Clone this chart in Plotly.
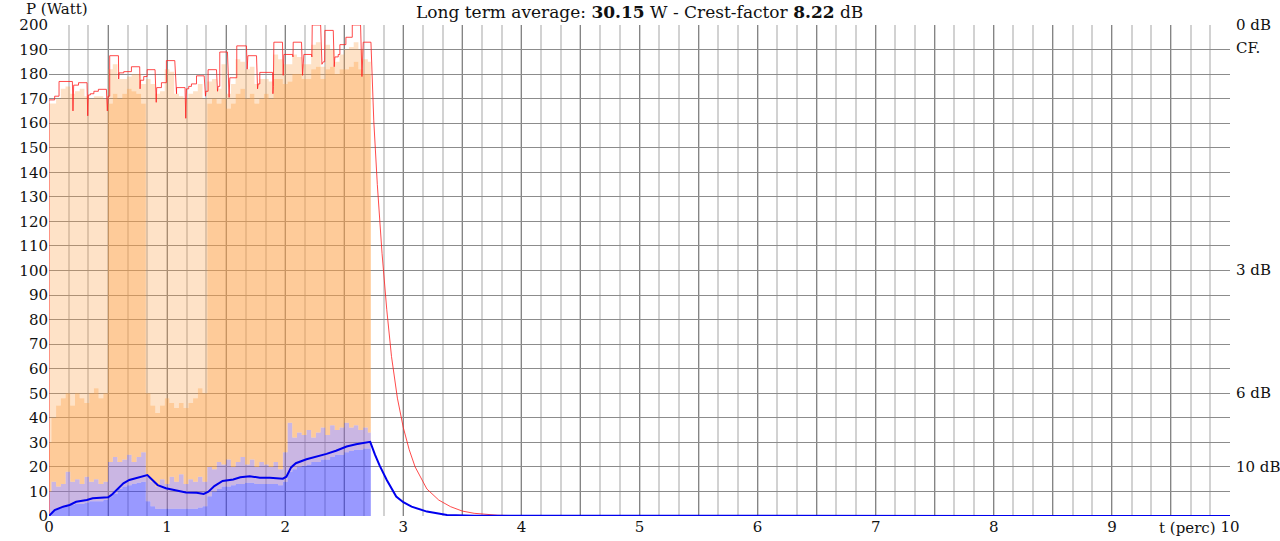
import plotly.graph_objects as go

# time grid of the measured part (t in perc), step 0.04, plus the cut-off point
t_meas = [round(i * 0.04, 2) for i in range(69)] + [2.73]

# peak power, pale upper envelope (W)
orange_env = [168, 168, 170, 174, 175, 172, 173, 174, 171, 170, 171, 171, 170,
              182, 184, 178, 178, 179, 180, 180, 176,
              178, 176, 172, 173, 182, 181, 172, 171, 170, 172, 173, 176,
              170, 177, 178, 174, 184, 172, 176, 186, 185, 182, 183, 176, 178, 178, 177,
              188, 186, 184, 184, 188, 187, 184, 184, 192, 193, 183, 192, 190, 185, 188,
              190, 191, 193, 190, 186, 185, 0]
# peak power, dense part (W)
orange_core = [30, 40, 45, 48, 50, 45, 50, 48, 46, 50, 52, 48, 50,
               168, 172, 170, 172, 174, 173, 172, 168,
               50, 45, 42, 45, 48, 46, 44, 46, 44, 46, 48, 52,
               50, 168, 170, 168, 170, 166, 168, 172, 174, 170, 172, 168, 170, 172, 170,
               178, 178, 176, 177, 180, 180, 178, 178, 182, 183, 178, 182, 183, 180, 182,
               182, 183, 185, 182, 180, 180, 0]
# short term power, spiky envelope (W)
purple_env = [10, 14, 12, 13, 18, 14, 15, 13, 16, 14, 15, 13, 14,
              22, 24, 22, 23, 25, 22, 24, 26,
              16, 14, 12, 15, 13, 16, 14, 17, 13, 15, 14, 16,
              14, 20, 19, 22, 21, 23, 20, 22, 24, 21, 23, 20, 22, 21, 20,
              22, 19, 26, 38, 32, 34, 33, 35, 32, 34, 36, 33, 37, 35, 36,
              38, 36, 37, 35, 36, 34, 0]
# short term power, dense part (W)
purple_core = [0, 2, 3, 3.5, 4, 4.5, 5, 5, 5.5, 6, 6, 6, 6.5,
               8, 9, 11, 12, 12.5, 13, 13.5, 14,
               6, 4, 3, 3, 3, 3, 3, 3, 3, 3, 3, 3.5,
               4, 8, 10, 11, 12, 12, 12.5, 13, 13, 13.5, 13.5, 13, 13, 13, 13,
               13, 12.5, 14, 18, 19, 20, 20.5, 21, 22, 22, 23, 23, 24, 25, 25,
               26, 26.5, 27, 27, 27.5, 27.5, 0]

# peak hold (red)
red_t = [0, 0, 0.048, 0.048, 0.085, 0.085, 0.198, 0.203, 0.209, 0.25, 0.25, 0.322, 0.328,
         0.333, 0.35, 0.35, 0.38, 0.38, 0.418, 0.418, 0.486, 0.494, 0.5, 0.514, 0.514,
         0.588, 0.59, 0.593, 0.633, 0.633, 0.698, 0.698, 0.768, 0.771, 0.774, 0.802, 0.802,
         0.831, 0.831, 0.898, 0.908, 0.912, 0.952, 0.952, 0.994, 0.994, 1.065, 1.08, 1.08,
         1.152, 1.158, 1.164, 1.183, 1.183, 1.206, 1.206, 1.249, 1.249, 1.314, 1.325, 1.328,
         1.347, 1.347, 1.418, 1.427, 1.432, 1.446, 1.446, 1.511, 1.525, 1.531, 1.59, 1.59,
         1.672, 1.678, 1.684, 1.757, 1.766, 1.771, 1.785, 1.785, 1.893, 1.896, 1.9, 1.904,
         1.977, 1.983, 1.989, 2.062, 2.066, 2.068, 2.138, 2.147, 2.158, 2.223, 2.226, 2.229,
         2.3, 2.311, 2.322, 2.334, 2.336, 2.407, 2.415, 2.421, 2.449, 2.449, 2.463, 2.463,
         2.514, 2.514, 2.568, 2.568, 2.638, 2.65, 2.661, 2.726,
         2.75, 2.78, 2.82, 2.86, 2.9, 2.95, 3.0, 3.05, 3.1, 3.2, 3.3, 3.4, 3.5, 3.6, 3.7,
         3.8, 4.0, 10]
red_p = [0, 169.5, 169.5, 171, 171, 177, 177, 165, 175.5, 175.5, 176.5, 176.5, 163,
         171.5, 171.5, 172, 172, 173, 173, 173.8, 173.8, 165, 171, 171, 187.5,
         187.5, 178, 180.5, 180.5, 181, 181, 183, 183, 174, 177.5, 177.5, 179,
         179, 181.8, 181.8, 168.5, 174.5, 174.5, 176.5, 176.5, 185.5, 185.5, 172, 174.5,
         174.5, 162, 174, 174, 175, 175, 176, 176, 179.3, 179.3, 171, 173,
         173, 181.8, 181.8, 173, 175, 175, 189, 189, 170.5, 178.5, 178.5, 191.5,
         191.5, 182, 187.5, 187.5, 174, 176, 176, 180.7, 180.7, 172, 175, 193,
         193, 179.5, 188, 188, 187, 193, 193, 179.5, 188, 188, 187, 200,
         200, 184, 185, 185, 197.8, 197.8, 183, 187, 187, 188, 188, 192,
         192, 195, 195, 200, 200, 179, 193, 193,
         161, 135, 107, 84, 65, 48, 36, 27, 20, 11, 6.5, 3.8, 2.0, 1.1, 0.6,
         0.3, 0.1, 0]

# long term average (blue)
blue_t = [0, 0.048, 0.12, 0.175, 0.23, 0.32, 0.37, 0.43, 0.5, 0.53, 0.57, 0.63, 0.68,
          0.74, 0.8, 0.833, 0.867, 0.92, 0.99, 1.08, 1.16, 1.25, 1.31, 1.35, 1.4, 1.47,
          1.56, 1.62, 1.7, 1.785, 1.87, 1.98, 2.01, 2.05, 2.09, 2.18, 2.27, 2.35, 2.43,
          2.52, 2.6, 2.675, 2.72,
          2.76, 2.8, 2.86, 2.94, 3.0, 3.07, 3.2, 3.37, 3.6, 10]
blue_p = [0, 2.4, 3.8, 4.5, 5.8, 6.5, 7.2, 7.5, 7.6, 8.6, 10.6, 13.3, 14.7,
          15.4, 16.3, 16.7, 15.1, 12.6, 11.3, 10.3, 9.6, 9.5, 9.0, 9.9, 12.2, 14.3,
          14.9, 15.8, 16.2, 15.6, 15.6, 15.2, 16, 19.8, 21.5, 23.1, 24.2, 25.3, 26.6,
          28.3, 29.2, 29.9, 30.2,
          25, 20.5, 14.7, 7.9, 5.6, 3.8, 1.8, 0.4, 0.1, 0]

x_tick_vals = [0, 0.5, 1, 1.5, 2, 2.5, 3, 3.5, 4, 4.5, 5, 5.5, 6, 6.5, 7, 7.5, 8, 8.5, 9, 9.5, 10]
x_tick_text = ["0", "", "1", "", "2", "", "3", "", "4", "", "5", "", "6", "", "7", "", "8", "", "9", "", "10"]

cf_labels = ["0 dB", "3 dB", "6 dB", "10 dB"]
cf_levels = [200, 100.2, 50.2, 20]

avg_w = 30.15
crest_db = 8.22

FONT = "DejaVu Serif"

fig = go.Figure()

# stacked fills, bottom to top
fig.add_trace(go.Scatter(x=t_meas, y=purple_core, mode="lines", line=dict(width=0, shape="hvh"),
                         fill="tozeroy", fillcolor="rgba(51,51,255,0.5)", hoverinfo="skip"))
fig.add_trace(go.Scatter(x=t_meas, y=purple_env, mode="lines", line=dict(width=0, shape="hvh"),
                         fill="tonexty", fillcolor="rgba(150,110,200,0.5)", hoverinfo="skip"))
fig.add_trace(go.Scatter(x=t_meas, y=orange_core, mode="lines", line=dict(width=0, shape="hvh"),
                         fill="tonexty", fillcolor="rgba(253,160,70,0.55)", hoverinfo="skip"))
fig.add_trace(go.Scatter(x=t_meas, y=orange_env, mode="lines", line=dict(width=0, shape="hvh"),
                         fill="tonexty", fillcolor="rgba(253,160,70,0.3)", hoverinfo="skip"))

fig.add_trace(go.Scatter(x=red_t, y=red_p, mode="lines",
                         line=dict(color="rgba(255,30,30,0.8)", width=1)))
fig.add_trace(go.Scatter(x=blue_t, y=blue_p, mode="lines",
                         line=dict(color="#0000ee", width=2)))

fig.update_xaxes(range=[0, 10], tickmode="array", tickvals=x_tick_vals, ticktext=x_tick_text,
                 showgrid=True, gridcolor="#858585", gridwidth=1, ticks="",
                 zeroline=False, showline=False, automargin=False,
                 minor=dict(tickmode="linear", tick0=0, dtick=1 / 6, showgrid=True,
                            gridcolor="#d2d2d2", gridwidth=1.5, ticks=""),
                 tickfont=dict(family=FONT, size=15, color="#111"))
fig.update_yaxes(range=[0, 200], dtick=10, showgrid=True, gridcolor="#8c8c8c", gridwidth=1,
                 ticks="", zeroline=False, showline=False, automargin=False,
                 tickfont=dict(family=FONT, size=15, color="#111"))

fig.add_annotation(text=f"Long term average: <b>{avg_w:.2f}</b> W - Crest-factor <b>{crest_db:.2f}</b> dB",
                   xref="paper", yref="paper", x=0.5, y=1, yanchor="middle", yshift=13,
                   showarrow=False, font=dict(family=FONT, size=17, color="#111"))
fig.add_annotation(text="P (Watt)", xref="paper", yref="paper", x=0, y=1, xanchor="center",
                   yanchor="middle", xshift=8, yshift=16, showarrow=False,
                   font=dict(family=FONT, size=15, color="#111"))
fig.add_annotation(text="t (perc)", xref="paper", yref="paper", x=0.964, y=0, xanchor="center",
                   yanchor="top", yshift=-1, showarrow=False,
                   font=dict(family=FONT, size=15, color="#111"))
for lab, lev in zip(cf_labels, cf_levels):
    fig.add_annotation(text=lab, xref="paper", yref="y", x=1, y=lev, xanchor="left",
                       yanchor="middle", xshift=4, showarrow=False,
                       font=dict(family=FONT, size=15, color="#111"))
fig.add_annotation(text="CF.", xref="paper", yref="y", x=1, y=190.5, xanchor="left",
                   yanchor="middle", xshift=4, showarrow=False,
                   font=dict(family=FONT, size=15, color="#111"))

fig.update_layout(width=1280, height=541, showlegend=False,
                  margin=dict(l=49, r=50, t=25, b=25),
                  paper_bgcolor="white", plot_bgcolor="white")

# drop the default page margin so the figure sits at the window's corner
fig.write_html("out.html", config={"displayModeBar": False},
               post_script="document.body.style.margin='0';")
